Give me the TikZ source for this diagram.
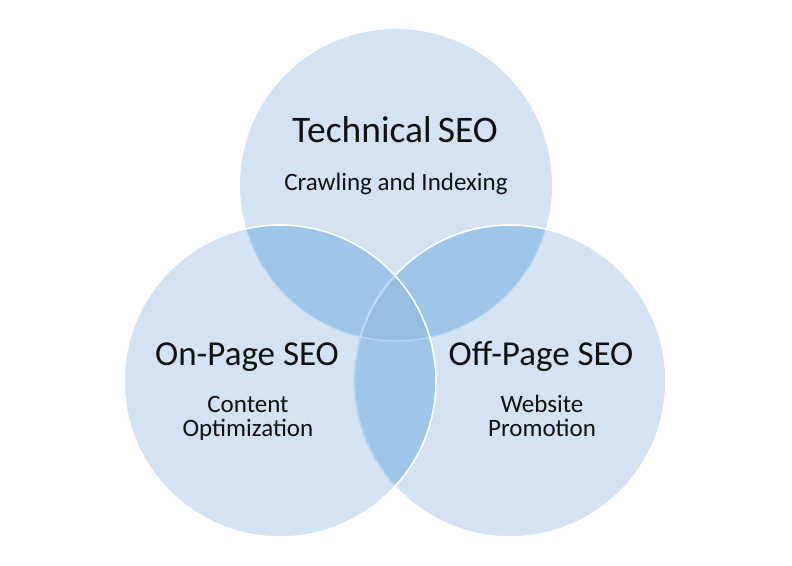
\documentclass[tikz,border=0pt]{standalone}
\usepackage{fontspec}
\setmainfont{Carlito}
\definecolor{lightfill}{HTML}{D3E3F4}
\definecolor{midfill}{HTML}{9DC6EA}
\definecolor{darkfill}{HTML}{96BFE3}
\definecolor{faintline}{HTML}{B9D6F0}
\definecolor{txt}{HTML}{111111}
\tikzset{
  titletext/.style={anchor=base, text=txt, font=\fontsize{35}{38}\selectfont, inner sep=0pt},
  bigtitle/.style={titletext, font=\fontsize{37.5}{40}\selectfont},
  subtext/.style={anchor=base, text=txt, font=\fontsize{25}{26}\selectfont, inner sep=0pt, align=center},
  whiteedge/.style={draw=white, line width=1.6pt},
  faintedge/.style={draw=faintline, line width=1pt}
}
\begin{document}
\begin{tikzpicture}[x=1pt,y=-1pt]
\useasboundingbox (0,0) rectangle (792,565);
\coordinate (T) at (396,185);
\coordinate (L) at (280,381);
\coordinate (Rc) at (510,381);
% base fills
\fill[lightfill] (T) circle (156pt);
\fill[lightfill] (L) circle (156pt);
\fill[lightfill] (Rc) circle (156pt);
% pairwise overlaps
\begin{scope}
  \clip (T) circle (156pt);
  \fill[midfill] (L) circle (156pt);
  \fill[midfill] (Rc) circle (156pt);
  \clip (L) circle (156pt);
  \fill[darkfill] (Rc) circle (156pt);
\end{scope}
\begin{scope}
  \clip (L) circle (156pt);
  \fill[midfill] (Rc) circle (156pt);
  \clip (T) circle (156pt);
  \fill[darkfill] (Rc) circle (156pt);
\end{scope}
% faint edge of the top circle inside the others
\begin{scope}
  \clip (L) circle (155pt);
  \draw[faintedge] (T) circle (156pt);
\end{scope}
\begin{scope}
  \clip (Rc) circle (155pt);
  \draw[faintedge] (T) circle (156pt);
\end{scope}
% right circle edge: white, faint inside the left circle
\draw[whiteedge] (Rc) circle (156pt);
\begin{scope}
  \clip (L) circle (155pt);
  \draw[faintedge, line width=1.6pt] (Rc) circle (156pt);
\end{scope}
% left circle edge: white
\draw[whiteedge] (L) circle (156pt);
% texts
\node[bigtitle] (ttl) at (395,142) {Technical\,SEO};
\node[subtext] (tsub) at (396,190) {Crawling and Indexing};
\node[titletext] (ltl) at (247,365) {On-Page SEO};
\node[subtext] (lsub1) at (248,412) {Content};
\node[subtext] (lsub2) at (248,436) {Optimization};
\node[titletext] (rtl) at (541,365) {Off-Page SEO};
\node[subtext] (rsub1) at (542,412) {Website};
\node[subtext] (rsub2) at (542,436) {Promotion};
\end{tikzpicture}
\end{document}
